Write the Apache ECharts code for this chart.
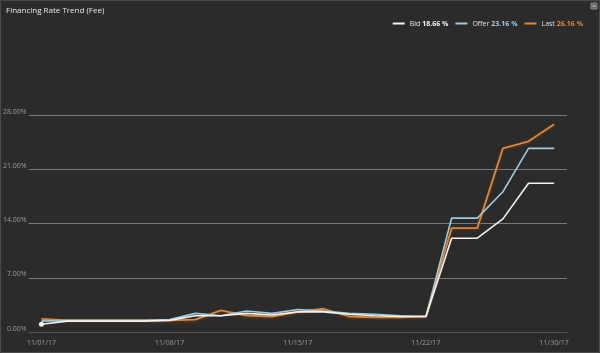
<!DOCTYPE html>
<html>
<head>
<meta charset="utf-8">
<style>
  html, body { margin: 0; padding: 0; background: #2b2b2b; }
  #chart { width: 600px; height: 353px; }
</style>
<script src="https://cdn.jsdelivr.net/npm/echarts@6/dist/echarts.min.js"></script>
</head>
<body>
<div id="chart"></div>
<script>
// business days, Thanksgiving skipped
const days = ['11/01/17', '11/02/17', '11/03/17', '11/06/17', '11/07/17', '11/08/17', '11/09/17',
  '11/10/17', '11/13/17', '11/14/17', '11/15/17', '11/16/17', '11/17/17', '11/20/17', '11/21/17',
  '11/22/17', '11/24/17', '11/27/17', '11/28/17', '11/29/17', '11/30/17']
const bid = [1.0, 1.4, 1.4, 1.4, 1.4, 1.5, 2.1, 2.1, 2.4, 2.2, 2.6, 2.6, 2.3, 2.1, 2.0, 2.0, 12.1, 12.1, 14.6, 19.2, 19.2]
const offer = [1.4, 1.5, 1.5, 1.5, 1.5, 1.6, 2.4, 2.1, 2.7, 2.4, 2.9, 2.7, 2.4, 2.3, 2.1, 2.0, 14.7, 14.7, 18.1, 23.7, 23.7]
const last = [1.7, 1.5, 1.5, 1.5, 1.5, 1.5, 1.6, 2.8, 2.1, 2.0, 2.6, 3.0, 2.0, 1.9, 1.9, 2.0, 13.4, 13.4, 23.7, 24.6, 26.8]
const seriesNames = ['Bid', 'Offer', 'Last']
const legendValues = [18.66, 23.16, 26.16]
const colors = ['#f2f2f2', '#9fcbd9', '#d9883f']

const chart = echarts.init(document.getElementById('chart'))
const font = 'Open Sans'

const option = {
  backgroundColor: '#2b2b2b',
  textStyle: { fontFamily: font },
  title: {
    text: 'Financing Rate Trend (Fee)',
    left: 1,
    top: 2,
    textStyle: { color: '#e8e8e8', fontSize: 8, fontWeight: 'normal', fontFamily: font }
  },
  legend: {
    right: 12,
    top: 15,
    itemWidth: 12,
    itemHeight: 2,
    itemGap: 7,
    icon: 'rect',
    data: seriesNames.map((n, i) => ({
      name: n,
      textStyle: {
        rich: {
          n: { color: '#e0e0e0', fontSize: 7, fontFamily: font },
          v: { color: colors[i], fontSize: 7, fontWeight: 'bold', fontFamily: font, padding: [0, 0, 0, 2] }
        }
      }
    })),
    formatter: name => {
      const i = seriesNames.indexOf(name)
      return '{n|' + name + '}{v|' + legendValues[i].toFixed(2) + ' %}'
    }
  },
  grid: { left: 27, right: 33, top: 115, bottom: 21 },
  xAxis: {
    type: 'category',
    data: days,
    boundaryGap: true,
    axisLine: { lineStyle: { color: '#555', width: 1 } },
    axisTick: { interval: 4, length: 3, lineStyle: { color: '#777' } },
    axisLabel: { interval: 4, color: '#9a9a9a', fontSize: 7, margin: 7 }
  },
  yAxis: {
    type: 'value',
    min: 0,
    max: 28,
    interval: 7,
    axisLine: { show: false },
    axisTick: { show: false },
    splitLine: { lineStyle: { color: '#7a7a7a', width: 1 } },
    axisLabel: {
      color: '#9a9a9a',
      fontSize: 7,
      margin: 2,
      verticalAlign: 'bottom',
      formatter: v => v.toFixed(2) + '%'
    }
  },
  series: [
    {
      name: 'Bid',
      type: 'line',
      symbol: 'none',
      data: bid.map((v, i) => i === 0 ? { value: v, symbol: 'circle', symbolSize: 5 } : v),
      itemStyle: { color: colors[0] },
      lineStyle: { color: colors[0], width: 1.6 },
      z: 4
    },
    {
      name: 'Offer',
      type: 'line',
      symbol: 'none',
      data: offer,
      itemStyle: { color: colors[1] },
      lineStyle: { color: colors[1], width: 1.6 },
      z: 3
    },
    {
      name: 'Last',
      type: 'line',
      symbol: 'none',
      data: last,
      itemStyle: { color: colors[2] },
      lineStyle: { color: colors[2], width: 1.8, shadowColor: '#6a3810', shadowBlur: 3, shadowOffsetY: 1 },
      z: 2
    }
  ],
  graphic: [
    { type: 'rect', shape: { x: 0.5, y: 0.5, width: 599, height: 352 }, style: { fill: 'none', stroke: '#4a4a4a' }, silent: true },
    { type: 'rect', shape: { x: 591, y: 3, width: 6, height: 6 }, style: { fill: '#666', stroke: '#888' }, silent: true },
    { type: 'rect', shape: { x: 592.5, y: 5.5, width: 3, height: 1 }, style: { fill: '#ddd' }, silent: true }
  ]
}

chart.setOption(option)
</script>
</body>
</html>
